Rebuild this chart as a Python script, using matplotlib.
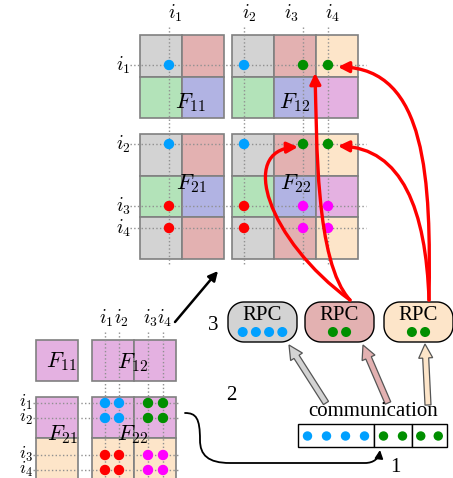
import numpy as np
import matplotlib
matplotlib.use("Agg")
import matplotlib.pyplot as plt
from matplotlib.patches import Rectangle, Circle, PathPatch, FancyArrow, FancyArrowPatch
from matplotlib.path import Path

plt.rcParams['mathtext.fontset'] = 'cm'
plt.rcParams['font.family'] = 'Liberation Serif'

###########################################
# Colours and data

GRAY = '#d3d3d3'
ROSE = '#e3b1b1'
GREEN = '#b3e3b9'
BLUE = '#b1b3e3'
BISQ = '#fde5c9'
VIOL = '#e4b1e1'

DOT_COL = {'b': '#00a0ff', 'g': '#008f00', 'r': '#ff0000', 'm': '#ff00ff'}

# dot colour for (row index, column index) in i1..i4
dot_grid = [['b', 'b', 'g', 'g'],
            ['b', 'b', 'g', 'g'],
            ['r', 'r', 'm', 'm'],
            ['r', 'r', 'm', 'm']]

idx_labels = ['$i_1$', '$i_2$', '$i_3$', '$i_4$']

# top (distributed) matrix blocks: name, origin, cell colours
top_blocks = [
    ('$F_{11}$', (140, 35), [[GRAY, ROSE], [GREEN, BLUE]]),
    ('$F_{12}$', (232, 35), [[GRAY, ROSE, BISQ], [GREEN, BLUE, VIOL]]),
    ('$F_{21}$', (140, 134), [[GRAY, ROSE], [GREEN, BLUE], [GRAY, ROSE]]),
    ('$F_{22}$', (232, 134), [[GRAY, ROSE, BISQ], [GREEN, BLUE, VIOL], [GRAY, ROSE, BISQ]]),
]
top_cell = (42, 41.6)
top_vx = [169, 244, 303, 328]
top_hy = [65, 144, 206, 228]
top_name_pos = [(190, 103), (295, 103), (191, 184), (296, 184)]

# bottom-left (global) matrix blocks
bot_blocks = [
    ('$F_{11}$', (36, 340), [[VIOL]]),
    ('$F_{12}$', (92, 340), [[VIOL, VIOL]]),
    ('$F_{21}$', (36, 397), [[VIOL], [BISQ]]),
    ('$F_{22}$', (92, 397), [[VIOL, VIOL], [BISQ, BISQ]]),
]
bot_cell = (42, 41)
bot_vx = [105, 119, 148, 163]
bot_hy = [403, 418, 455, 470]
bot_name_pos = [(61, 362), (133, 363), (62, 435), (133, 435)]

# RPC boxes: fill colour, dot colours
rpc_boxes = [(GRAY, ['b', 'b', 'b', 'b']),
             (ROSE, ['g', 'g']),
             (BISQ, ['g', 'g'])]
rpc_x = [228, 305, 384]

# communication buffer: segments of dots
comm_segments = [['b', 'b', 'b', 'b'], ['g', 'g'], ['g', 'g']]

###########################################

fig = plt.figure(figsize=(4.53, 4.78), dpi=100)
ax = fig.add_axes([0, 0, 1, 1])
ax.set_xlim(0, 453)
ax.set_ylim(478, 0)
ax.set_aspect('equal')
ax.axis('off')


def draw_blocks(blocks, cell):
    cw, ch = cell
    for name, (x0, y0), cols in blocks:
        for r, row in enumerate(cols):
            for c, col in enumerate(row):
                ax.add_patch(Rectangle((x0 + c * cw, y0 + r * ch), cw, ch,
                                       facecolor=col, edgecolor='#808080', lw=1.2, zorder=1))


def draw_grid(vx, hy, y_top, y_bot, x_left, x_right):
    for x in vx:
        ax.plot([x, x], [y_top, y_bot], ':', color='#909090', lw=1, zorder=2)
    for y in hy:
        ax.plot([x_left, x_right], [y, y], ':', color='#909090', lw=1, zorder=2)


def draw_dots(vx, hy, r):
    for i, y in enumerate(hy):
        for j, x in enumerate(vx):
            ax.add_patch(Circle((x, y), r, color=DOT_COL[dot_grid[i][j]], zorder=3))


def rounded_box(x0, y0, w, h, r):
    pts = []
    corners = [(x0 + w - r, y0 + r, -90, 0), (x0 + w - r, y0 + h - r, 0, 90),
               (x0 + r, y0 + h - r, 90, 180), (x0 + r, y0 + r, 180, 270)]
    for cx, cy, a0, a1 in corners:
        t = np.radians(np.linspace(a0, a1, 20))
        pts += list(zip(cx + r * np.cos(t), cy + r * np.sin(t)))
    pts.append(pts[0])
    return Path(pts, closed=True)


# top matrix
draw_blocks(top_blocks, top_cell)
draw_grid(top_vx, top_hy, 27, 264, 130, 366)
draw_dots(top_vx, top_hy, 4.5)
for (name, _, _), pos in zip(top_blocks, top_name_pos):
    ax.text(*pos, name, fontsize=16, ha='center', va='center', zorder=4)
for lab, x in zip(idx_labels, [175, 249, 291, 333]):
    ax.text(x, 13, lab, fontsize=14, ha='center', va='center')
for lab, y in zip(idx_labels, top_hy):
    ax.text(131, y, lab, fontsize=14, ha='right', va='center')

# bottom-left matrix
draw_blocks(bot_blocks, bot_cell)
draw_grid(bot_vx, bot_hy, 332, 478, 33, 178)
draw_dots(bot_vx, bot_hy, 4.5)
for (name, _, _), pos in zip(bot_blocks, bot_name_pos):
    ax.text(*pos, name, fontsize=16, ha='center', va='center', zorder=4)
for lab, x in zip(idx_labels, [106, 121, 150, 165]):
    ax.text(x, 318, lab, fontsize=14, ha='center', va='center')
for lab, y in zip(idx_labels, bot_hy):
    ax.text(33, y - 1, lab, fontsize=13, ha='right', va='center')

# arrow from the global matrix to the distributed one
ax.add_patch(FancyArrowPatch((175, 322), (218, 271), arrowstyle='-|>', mutation_scale=14,
                             color='black', lw=1.8, shrinkA=0, shrinkB=0))

# RPC boxes
for (fc, dots), x0 in zip(rpc_boxes, rpc_x):
    ax.add_patch(PathPatch(rounded_box(x0, 302, 69, 40, 16),
                           facecolor=fc, edgecolor='black', lw=1.0, zorder=2))
    ax.text(x0 + 34.5, 316, 'RPC', fontsize=15, ha='center', va='center', zorder=3)
    n = len(dots)
    for k, d in enumerate(dots):
        ax.add_patch(Circle((x0 + 34.5 + (k - (n - 1) / 2) * 13.2, 332), 4.3,
                            color=DOT_COL[d], zorder=3))

# step numbers
ax.text(213, 326, '3', fontsize=15, ha='center', va='center')
ax.text(231, 395, '2', fontsize=15, ha='center', va='center')
ax.text(395, 467, '1', fontsize=15, ha='center', va='center')

# communication buffer
ax.text(373, 411, 'communication', fontsize=15, ha='center', va='center')
seg_w = [76, 38, 35]
x = 298
for seg, w in zip(comm_segments, seg_w):
    ax.add_patch(Rectangle((x, 424), w, 23, facecolor='white', edgecolor='black', lw=1.0))
    n = len(seg)
    step = w / n
    for k, d in enumerate(seg):
        ax.add_patch(Circle((x + step * (k + 0.5), 436), 4.0, color=DOT_COL[d], zorder=3))
    x += w

# block arrows from buffer to RPC boxes
for (fc, _), (xs, ys, xe, ye) in zip(rpc_boxes, [(326, 403, 289, 345),
                                                 (388, 403, 363, 345),
                                                 (428, 405, 425, 344)]):
    ax.add_patch(FancyArrow(xs, ys, xe - xs, ye - ys, width=6, head_width=14, head_length=14,
                            length_includes_head=True, facecolor=fc, edgecolor='#555555',
                            lw=0.9, zorder=2))

# curved black arrow from global matrix to the buffer
verts = [(185, 413), (196, 413), (200, 418), (200, 440),
         (200, 455), (208, 463), (230, 463),
         (365, 463),
         (374, 463), (379, 458), (380, 450)]
codes = [Path.MOVETO, Path.CURVE4, Path.CURVE4, Path.CURVE4,
         Path.CURVE4, Path.CURVE4, Path.CURVE4,
         Path.LINETO,
         Path.CURVE4, Path.CURVE4, Path.CURVE4]
ax.add_patch(FancyArrowPatch(path=Path(verts, codes), arrowstyle='-|>', mutation_scale=12,
                             color='black', lw=1.3, zorder=3))

# red arrows from RPC boxes back to distributed matrix
red_paths = [
    [(350, 300), (315, 262), (317, 140), (315, 73)],
    [(350, 300), (268, 240), (238, 150), (298, 147)],
    [(429, 300), (431, 180), (427, 68), (338, 67)],
    [(429, 300), (426, 210), (402, 148), (338, 146)],
]
for pts in red_paths:
    p = Path(pts, [Path.MOVETO, Path.CURVE4, Path.CURVE4, Path.CURVE4])
    ax.add_patch(FancyArrowPatch(path=p, arrowstyle='-|>', mutation_scale=16,
                                 color='#ff0000', lw=2.4, zorder=5))

fig.savefig('out.png', dpi=100)
